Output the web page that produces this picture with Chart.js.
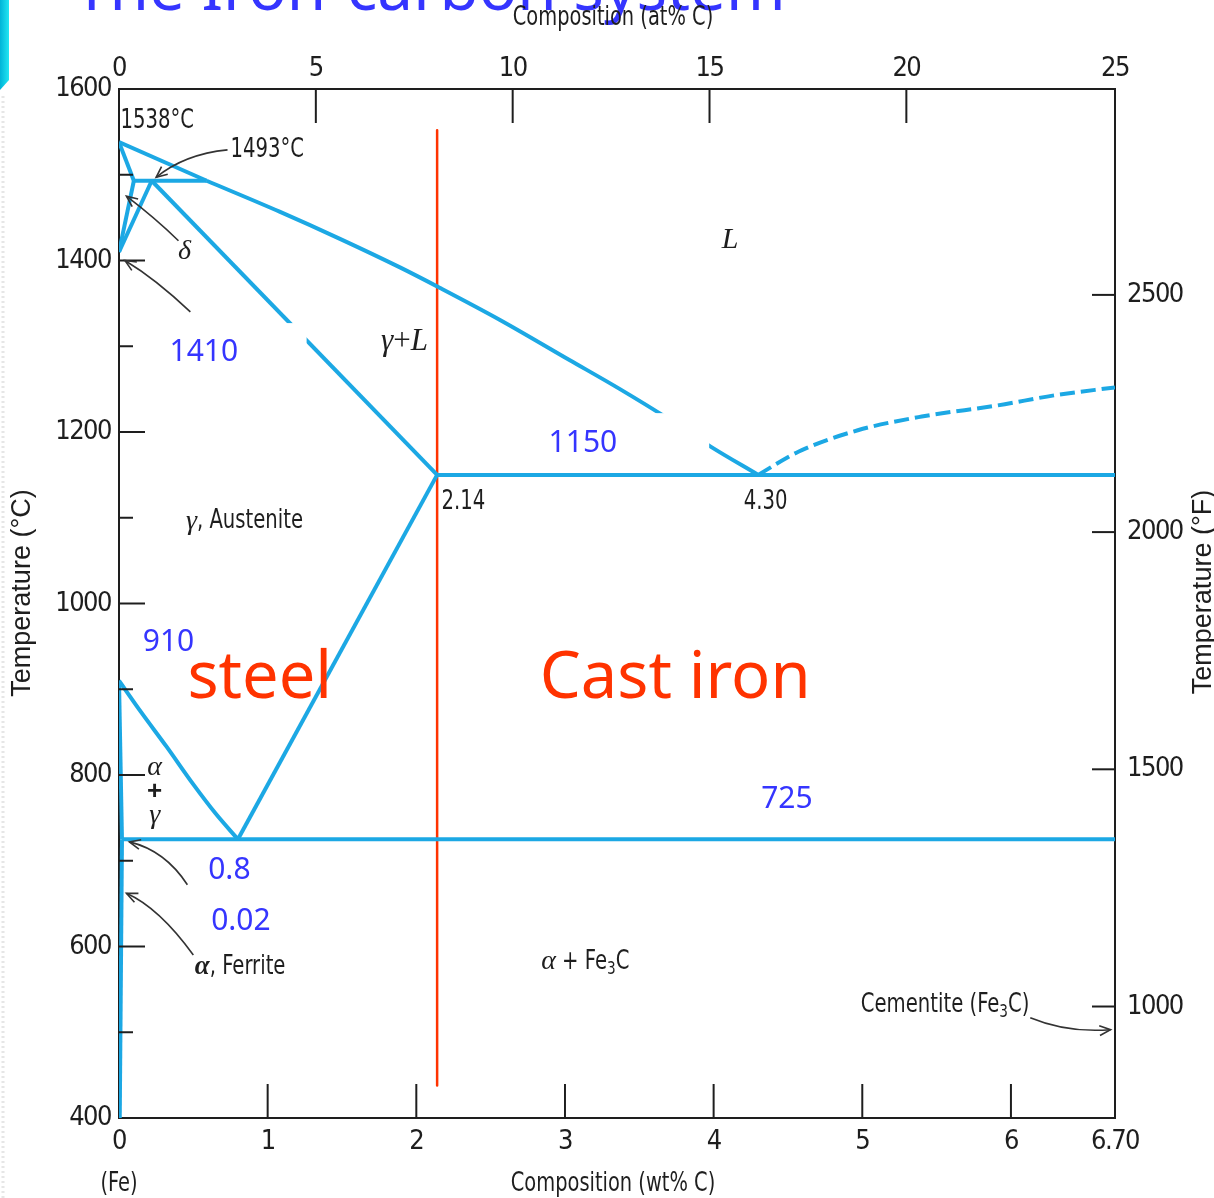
<!DOCTYPE html>
<html>
<head>
<meta charset="utf-8">
<script src="https://cdn.jsdelivr.net/npm/chart.js@4.4.1/dist/chart.umd.min.js"></script>
<style>
  html, body { margin: 0; padding: 0; background: #fff; }
  #wrap { width: 1214px; height: 1198px; }
</style>
</head>
<body>
<div id="wrap"><canvas id="c" width="1214" height="1198"></canvas></div>
<script>
// ---- axis ticks ----
const wtTicks = [0, 1, 2, 3, 4, 5, 6, 6.70];
const wtTickLabels = ['0', '1', '2', '3', '4', '5', '6', '6.70'];
const atTicks = [0, 5, 10, 15, 20, 25];
const atTickLabels = ['0', '5', '10', '15', '20', '25'];
const tempCTicks = [400, 600, 800, 1000, 1200, 1400, 1600];
const tempCMinorTicks = [500, 700, 900, 1100, 1300, 1500];
const tempFTicks = [1000, 1500, 2000, 2500];

// ---- phase boundaries: composition (wt% C) vs temperature (°C) ----
const deltaLiquidusWt = [0, 0.59];
const deltaLiquidusC  = [1538, 1493];
const liquidusWt = [0.59, 1.08, 1.49, 1.89, 2.16, 2.56, 3.03, 3.37, 3.69, 3.98, 4.30];
const liquidusC  = [1493, 1457, 1425, 1392, 1368, 1331, 1284, 1250, 1216, 1183, 1150];
const deltaSolidusWt = [0, 0.10];
const deltaSolidusC  = [1538, 1493];
const peritecticWt = [0.10, 0.59];
const peritecticC  = [1493, 1493];
const deltaSolvusWt = [0, 0.10];
const deltaSolvusC  = [1410, 1493];
const gammaDeltaWt = [0, 0.22];
const gammaDeltaC  = [1410, 1493];
const austeniteSolidusWt = [0.22, 2.14];
const austeniteSolidusC  = [1493, 1150];
const eutecticWt = [2.14, 6.70];
const eutecticC  = [1150, 1150];
const acmWt = [2.14, 0.8];
const acmC  = [1150, 725];
const a3Wt = [0, 0.15, 0.32, 0.50, 0.65, 0.8];
const a3C  = [910, 873, 833, 789, 755, 725];
const alphaGammaWt = [0, 0.02];
const alphaGammaC  = [910, 725];
const ferriteSolvusWt = [0.02, 0.005];
const ferriteSolvusC  = [725, 400];
const eutectoidWt = [0.02, 6.70];
const eutectoidC  = [725, 725];
const cementiteLiquidusWt = [4.30, 4.57, 4.97, 5.40, 5.91, 6.30, 6.70];
const cementiteLiquidusC  = [1150, 1177, 1202, 1218, 1231, 1243, 1252];
const steelCastIronWt = [2.14, 2.14];
const steelCastIronC  = [1552, 438];

// ---- styles ----
const LINE_BLUE = '#1ca8e4';
const INK = '#1e1e1e';
const NARROW = "'Liberation Sans Narrow', 'DejaVu Sans Condensed', 'Arial Narrow', sans-serif";
const SANS = "'Liberation Sans', Arial, sans-serif";
const SERIF = "'Liberation Serif', 'DejaVu Serif', serif";
const HAND = "'Comic Sans MS', 'Noto Sans', sans-serif";
const NOTE_BLUE = '#3535ff';
const NOTE_RED = '#ff3300';
const CONDENSE = 0.84;

const toPoints = (xs, ys) => xs.map((x, i) => ({ x: x, y: ys[i] }));

function boundary(label, xs, ys, extra) {
  return Object.assign({
    label: label,
    data: toPoints(xs, ys),
    showLine: true,
    borderColor: LINE_BLUE,
    backgroundColor: LINE_BLUE,
    borderWidth: 4,
    pointRadius: 0,
    tension: 0,
    fill: false,
    borderCapStyle: 'butt',
    borderJoinStyle: 'round',
    xAxisID: 'x',
    yAxisID: 'y'
  }, extra || {});
}

const smooth = { cubicInterpolationMode: 'monotone' };

const datasets = [
  boundary('Liquidus (δ side)', deltaLiquidusWt, deltaLiquidusC),
  boundary('Liquidus', liquidusWt, liquidusC, smooth),
  boundary('δ solidus', deltaSolidusWt, deltaSolidusC),
  boundary('Peritectic', peritecticWt, peritecticC),
  boundary('δ solvus', deltaSolvusWt, deltaSolvusC),
  boundary('γ / δ+γ', gammaDeltaWt, gammaDeltaC),
  boundary('Austenite solidus', austeniteSolidusWt, austeniteSolidusC),
  boundary('Eutectic', eutecticWt, eutecticC),
  boundary('Acm', acmWt, acmC),
  boundary('A3', a3Wt, a3C, smooth),
  boundary('α / α+γ', alphaGammaWt, alphaGammaC),
  boundary('Ferrite solvus', ferriteSolvusWt, ferriteSolvusC),
  boundary('Eutectoid', eutectoidWt, eutectoidC),
  boundary('Fe3C liquidus', cementiteLiquidusWt, cementiteLiquidusC, Object.assign({ borderDash: [15, 6] }, smooth)),
  boundary('Steel / cast iron', steelCastIronWt, steelCastIronC, { borderColor: NOTE_RED, borderWidth: 2.5 })
];

// ---- region labels and notes, placed in data coordinates (wt% C, °C) ----
const F_TXT = '26px ' + NARROW;
const F_GREEK = 'italic 28px ' + SERIF;
const F_SUB = '18px ' + NARROW;
const F_NOTE = '30px ' + HAND;
const F_BIG = '65px ' + HAND;
const C = CONDENSE;

const textNotes = [
  { wt: 0.01, c: 1562, parts: [{ t: '1538°C', f: F_TXT, sx: C }] },
  { wt: 0.75, c: 1528, parts: [{ t: '1493°C', f: F_TXT, sx: C }] },
  { wt: 0.44, c: 1410, align: 'center', parts: [{ t: 'δ', f: F_GREEK }] },
  { wt: 4.11, c: 1424, align: 'center', parts: [{ t: 'L', f: 'italic 30px ' + SERIF }] },
  { wt: 1.92, c: 1305, align: 'center', parts: [{ t: 'γ', f: 'italic 31px ' + SERIF }, { t: '+', f: '31px ' + SERIF }, { t: 'L', f: 'italic 31px ' + SERIF }] },
  { wt: 2.17, c: 1118, parts: [{ t: '2.14', f: F_TXT, sx: C }] },
  { wt: 4.35, c: 1118, align: 'center', parts: [{ t: '4.30', f: F_TXT, sx: C }] },
  { wt: 0.45, c: 1096, parts: [{ t: 'γ', f: F_GREEK }, { t: ', Austenite', f: F_TXT, sx: C }] },
  { wt: 0.24, c: 808, align: 'center', parts: [{ t: 'α', f: F_GREEK }] },
  { wt: 0.24, c: 780, align: 'center', parts: [{ t: '+', f: 'bold 26px ' + SANS }] },
  { wt: 0.24, c: 753, align: 'center', parts: [{ t: 'γ', f: F_GREEK }] },
  { wt: 0.51, c: 576, parts: [{ t: 'α', f: 'bold italic 27px ' + SERIF }, { t: ', Ferrite', f: F_TXT, sx: C }] },
  { wt: 2.84, c: 582, parts: [{ t: 'α', f: F_GREEK }, { t: ' + Fe', f: F_TXT, sx: C }, { t: '3', f: F_SUB, sx: C, dy: 7 }, { t: 'C', f: F_TXT, sx: C }] },
  { wt: 4.99, c: 531, parts: [{ t: 'Cementite (Fe', f: F_TXT, sx: C }, { t: '3', f: F_SUB, sx: C, dy: 7 }, { t: 'C)', f: F_TXT, sx: C }] },
  { wt: 0.34, c: 1293, parts: [{ t: '1410', f: F_NOTE, color: NOTE_BLUE }] },
  { wt: 2.89, c: 1187, parts: [{ t: '1150', f: F_NOTE, color: NOTE_BLUE }] },
  { wt: 0.16, c: 954, parts: [{ t: '910', f: F_NOTE, color: NOTE_BLUE }] },
  { wt: 4.32, c: 771, parts: [{ t: '725', f: F_NOTE, color: NOTE_BLUE }] },
  { wt: 0.60, c: 689, parts: [{ t: '0.8', f: F_NOTE, color: NOTE_BLUE }] },
  { wt: 0.62, c: 629, parts: [{ t: '0.02', f: F_NOTE, color: NOTE_BLUE }] },
  { wt: 0.46, c: 911, parts: [{ t: 'steel', f: F_BIG, color: NOTE_RED }] },
  { wt: 2.83, c: 911, parts: [{ t: 'Cast iron', f: F_BIG, color: NOTE_RED }] }
];

// white backing panels behind two of the notes
const notePanels = [
  { wt0: 0.275, wt1: 1.262, c0: 1327, c1: 1261 },
  { wt0: 2.83, wt1: 3.97, c0: 1222, c1: 1160 }
];

// pointer arrows: start, bend, tip
const pointers = [
  { from: [0.73, 1529], via: [0.44, 1524], to: [0.25, 1497] },
  { from: [0.40, 1423], via: [0.24, 1450], to: [0.05, 1475] },
  { from: [0.48, 1340], via: [0.25, 1378], to: [0.04, 1400] },
  { from: [0.46, 672], via: [0.31, 712], to: [0.07, 722] },
  { from: [0.50, 590], via: [0.27, 645], to: [0.05, 662] },
  { from: [6.13, 517], via: [6.38, 499], to: [6.67, 503] }
];

function drawRuns(ctx, x, y, parts, align) {
  let w = 0;
  parts.forEach(p => {
    ctx.font = p.f;
    p.w = ctx.measureText(p.t).width * (p.sx || 1);
    w += p.w;
  });
  let cx = align === 'center' ? x - w / 2 : x;
  parts.forEach(p => {
    ctx.save();
    ctx.font = p.f;
    ctx.fillStyle = p.color || INK;
    ctx.translate(cx, y + (p.dy || 0));
    ctx.scale(p.sx || 1, 1);
    ctx.fillText(p.t, 0, 0);
    ctx.restore();
    cx += p.w;
  });
}

function condensedText(ctx, text, x, y, sx, rot) {
  ctx.save();
  ctx.translate(x, y);
  if (rot) ctx.rotate(rot);
  ctx.scale(sx, 1);
  ctx.fillText(text, 0, 0);
  ctx.restore();
}

function segment(ctx, x1, y1, x2, y2) {
  ctx.beginPath(); ctx.moveTo(x1, y1); ctx.lineTo(x2, y2); ctx.stroke();
}

const decor = {
  id: 'decor',
  beforeDraw(chart) {
    const ctx = chart.ctx;
    ctx.save();
    ctx.fillStyle = '#ffffff';
    ctx.fillRect(0, 0, chart.width, chart.height);
    // slide edge strip
    const g = ctx.createLinearGradient(0, 0, 9, 0);
    g.addColorStop(0, '#00b4d8');
    g.addColorStop(1, '#22e6f2');
    ctx.fillStyle = g;
    ctx.beginPath();
    ctx.moveTo(0, 0); ctx.lineTo(9, 0); ctx.lineTo(9, 80); ctx.lineTo(0, 90); ctx.closePath();
    ctx.fill();
    ctx.strokeStyle = '#e6e6e6';
    ctx.lineWidth = 3;
    ctx.setLineDash([2, 3]);
    segment(ctx, 3, 96, 3, chart.height);
    ctx.setLineDash([]);
    // slide heading
    ctx.fillStyle = NOTE_BLUE;
    const heading = 'The Iron-carbon system';
    ctx.font = '60px ' + HAND;
    const hs = 60 * 712 / ctx.measureText(heading).width;
    ctx.font = hs.toFixed(1) + 'px ' + HAND;
    ctx.textBaseline = 'alphabetic';
    ctx.textAlign = 'left';
    ctx.fillText(heading, 74, 10);
    ctx.restore();
    // tighter figure spacing for the axis numbers
    ctx.letterSpacing = '-1.5px';
  },
  afterDatasetsDraw(chart) {
    const ctx = chart.ctx;
    const sx = chart.scales.x, sy = chart.scales.y, sx2 = chart.scales.x2, sy2 = chart.scales.y2;
    const X = v => sx.getPixelForValue(v);
    const Y = v => sy.getPixelForValue(v);
    const area = chart.chartArea;
    ctx.save();
    ctx.letterSpacing = '0px';

    // panels
    ctx.fillStyle = '#ffffff';
    notePanels.forEach(b => {
      const x0 = X(b.wt0), x1 = X(b.wt1), y0 = Y(b.c0), y1 = Y(b.c1);
      ctx.fillRect(x0, y0, x1 - x0, y1 - y0);
    });

    // inward tick marks
    ctx.strokeStyle = INK;
    ctx.lineWidth = 2;
    tempCTicks.filter(v => v > 400 && v < 1600).forEach(v => segment(ctx, area.left, Y(v), area.left + 26, Y(v)));
    tempCMinorTicks.forEach(v => segment(ctx, area.left, Y(v), area.left + 14, Y(v)));
    wtTicks.filter(v => v > 0 && v < 6.7).forEach(v => segment(ctx, X(v), area.bottom, X(v), area.bottom - 34));
    atTicks.filter(v => v > 0 && v < 25).forEach(v => segment(ctx, sx2.getPixelForValue(v), area.top, sx2.getPixelForValue(v), area.top + 34));
    tempFTicks.forEach(v => segment(ctx, area.right, sy2.getPixelForValue(v), area.right - 23, sy2.getPixelForValue(v)));

    // pointer arrows
    ctx.strokeStyle = '#333';
    ctx.lineWidth = 1.6;
    pointers.forEach(p => {
      const a = [X(p.from[0]), Y(p.from[1])], m = [X(p.via[0]), Y(p.via[1])], b = [X(p.to[0]), Y(p.to[1])];
      ctx.beginPath(); ctx.moveTo(a[0], a[1]); ctx.quadraticCurveTo(m[0], m[1], b[0], b[1]); ctx.stroke();
      const ang = Math.atan2(b[1] - m[1], b[0] - m[0]);
      const len = 12, spread = 0.42;
      ctx.beginPath();
      ctx.moveTo(b[0] - len * Math.cos(ang - spread), b[1] - len * Math.sin(ang - spread));
      ctx.lineTo(b[0], b[1]);
      ctx.lineTo(b[0] - len * Math.cos(ang + spread), b[1] - len * Math.sin(ang + spread));
      ctx.stroke();
    });

    // labels
    ctx.textBaseline = 'middle';
    ctx.textAlign = 'left';
    textNotes.forEach(n => drawRuns(ctx, X(n.wt), Y(n.c), n.parts, n.align));

    // axis titles
    ctx.fillStyle = INK;
    ctx.textAlign = 'center';
    ctx.font = '27px ' + NARROW;
    condensedText(ctx, 'Composition (at% C)', 613, 18, 0.8);
    condensedText(ctx, 'Composition (wt% C)', 613, 1184, 0.8);
    condensedText(ctx, '(Fe)', X(0), 1184, 0.8);
    ctx.font = '27px ' + SANS;
    condensedText(ctx, 'Temperature (°C)', 23, 593, 1, -Math.PI / 2);
    condensedText(ctx, 'Temperature (°F)', 1204, 592, 1, -Math.PI / 2);

    ctx.restore();
  }
};

const tickFont = { family: NARROW, size: 27 };
const axisBorder = { display: true, color: INK, width: 2 };

new Chart(document.getElementById('c'), {
  type: 'scatter',
  data: { datasets: datasets },
  options: {
    responsive: false,
    animation: false,
    devicePixelRatio: 1,
    events: [],
    layout: { padding: 0 },
    plugins: { legend: { display: false }, tooltip: { enabled: false } },
    scales: {
      x: {
        type: 'linear', position: 'bottom', min: 0, max: 6.70,
        afterBuildTicks: s => { s.ticks = wtTicks.map(v => ({ value: v })); },
        afterFit: s => { s.height = 80; },
        ticks: { callback: (v, i) => wtTickLabels[i], font: tickFont, color: INK, padding: 8, maxRotation: 0, autoSkip: false },
        grid: { display: false, drawTicks: false },
        border: axisBorder
      },
      x2: {
        type: 'linear', position: 'top', min: 0, max: 25.3,
        afterBuildTicks: s => { s.ticks = atTicks.map(v => ({ value: v === 25 ? s.max : v })); },
        afterFit: s => { s.height = 89; },
        ticks: { callback: (v, i) => atTickLabels[i], font: tickFont, color: INK, padding: 4, maxRotation: 0, autoSkip: false },
        grid: { display: false, drawTicks: false },
        border: axisBorder
      },
      y: {
        type: 'linear', position: 'left', min: 400, max: 1600,
        afterBuildTicks: s => { s.ticks = tempCTicks.map(v => ({ value: v })); },
        afterFit: s => { s.width = 119; },
        ticks: { callback: v => String(v), font: tickFont, color: INK, padding: 8, autoSkip: false },
        grid: { display: false, drawTicks: false },
        border: axisBorder
      },
      y2: {
        type: 'linear', position: 'right', min: 765, max: 2934,
        afterBuildTicks: s => { s.ticks = tempFTicks.map(v => ({ value: v })); },
        afterFit: s => { s.width = 99; },
        ticks: { callback: v => String(v), font: tickFont, color: INK, padding: 12, autoSkip: false },
        grid: { display: false, drawTicks: false },
        border: axisBorder
      }
    }
  },
  plugins: [decor]
});
</script>
</body>
</html>
